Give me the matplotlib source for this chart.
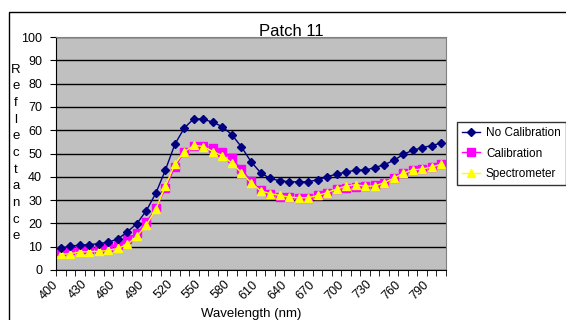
import matplotlib
matplotlib.use('Agg')
import matplotlib.pyplot as plt
from matplotlib.patches import Rectangle

plt.rcParams['font.family'] = ['Liberation Sans', 'DejaVu Sans']

wavelengths = list(range(400, 801, 10))
no_cal = [9.3, 10.3, 10.6, 10.9, 11.3, 12.0, 13.3, 16.4, 19.9, 25.5, 33.0, 42.9, 54.0, 61.0,
          65.0, 64.7, 63.4, 61.5, 58.0, 52.8, 46.5, 41.8, 39.3, 38.3, 37.9, 37.8, 37.9, 38.7,
          40.0, 41.2, 42.0, 42.9, 42.9, 43.9, 45.2, 47.0, 49.6, 51.4, 52.5, 53.4, 54.5]
calib = [8.3, 8.6, 8.9, 9.0, 9.2, 10.0, 10.9, 13.2, 15.7, 20.5, 26.5, 35.0, 44.3, 50.8,
         53.4, 53.2, 52.5, 50.8, 48.0, 43.2, 38.3, 34.3, 32.5, 31.5, 31.2, 30.8, 31.0, 32.0,
         33.2, 34.6, 35.2, 35.7, 36.0, 36.3, 37.5, 39.4, 41.5, 42.9, 43.2, 44.1, 45.4]
spec = [6.7, 7.0, 7.7, 7.9, 8.0, 8.4, 9.3, 11.0, 14.5, 19.3, 26.2, 36.0, 45.5, 50.8,
        53.5, 53.0, 50.8, 49.1, 45.8, 41.8, 37.5, 34.0, 32.8, 32.0, 31.3, 31.0, 31.0, 32.0,
        33.2, 34.8, 36.0, 36.6, 36.0, 36.0, 37.5, 39.4, 41.5, 43.0, 43.3, 44.2, 45.4]
label_every = 3

fig = plt.figure(figsize=(5.66, 3.2), dpi=100)
ax = fig.add_axes([56 / 566, 1 - 270 / 320, 390 / 566, 233 / 320])
ax.set_facecolor('#C0C0C0')

x = list(range(len(wavelengths)))
ax.plot(x, no_cal, color='#000080', lw=1, marker='D', ms=4, label='No Calibration', zorder=5)
ax.plot(x, calib, color='#FF00FF', lw=1, marker='s', ms=5.5, label='Calibration', zorder=3)
ax.plot(x, spec, color='#FFFF00', lw=1, marker='^', ms=6, label='Spectrometer', zorder=4)

ax.set_xlim(-0.5, len(wavelengths) - 0.5)
ax.set_ylim(0, 100)
ax.set_yticks(range(0, 101, 10))
ax.grid(axis='y', color='black', lw=1)
ax.set_axisbelow(True)

ax.set_xticks(x[::label_every])
ax.set_xticklabels([str(w) for w in wavelengths[::label_every]], rotation=45,
                   ha='right', va='top')
ax.tick_params(axis='x', which='major', length=0, pad=6, labelsize=9)
ax.set_xticks([i - 0.5 for i in range(len(wavelengths) + 1)], minor=True)
ax.tick_params(axis='x', which='minor', length=4, direction='out')
ax.tick_params(axis='y', length=4, direction='out', labelsize=9, pad=6)

for s in ['top', 'right']:
    ax.spines[s].set_color('#808080')
for s in ['left', 'bottom']:
    ax.spines[s].set_color('black')

fig.text(291 / 566, 1 - 31 / 320, 'Patch 11', ha='center', va='center', fontsize=12)
fig.text(16 / 566, 1 - 153 / 320, '\n'.join('Reflectance'), ha='center', va='center',
         fontsize=9.5, linespacing=1.52)
fig.text(251 / 566, 1 - 314 / 320, 'Wavelength (nm)', ha='center', va='center', fontsize=9.5)

leg = fig.legend(loc='upper left', bbox_to_anchor=(457 / 566, 1 - 122 / 320),
                 borderaxespad=0, frameon=True, fancybox=False, edgecolor='black',
                 fontsize=8.5, handlelength=1.5, borderpad=0.45, labelspacing=0.7,
                 handletextpad=0.5)
leg.get_frame().set_linewidth(1)

fig.patches.append(Rectangle((9 / 566, -0.5), 2, 0.5 + 1 - 12 / 320, transform=fig.transFigure,
                             fill=False, edgecolor='black', lw=1))

fig.savefig('out.png', dpi=100)
